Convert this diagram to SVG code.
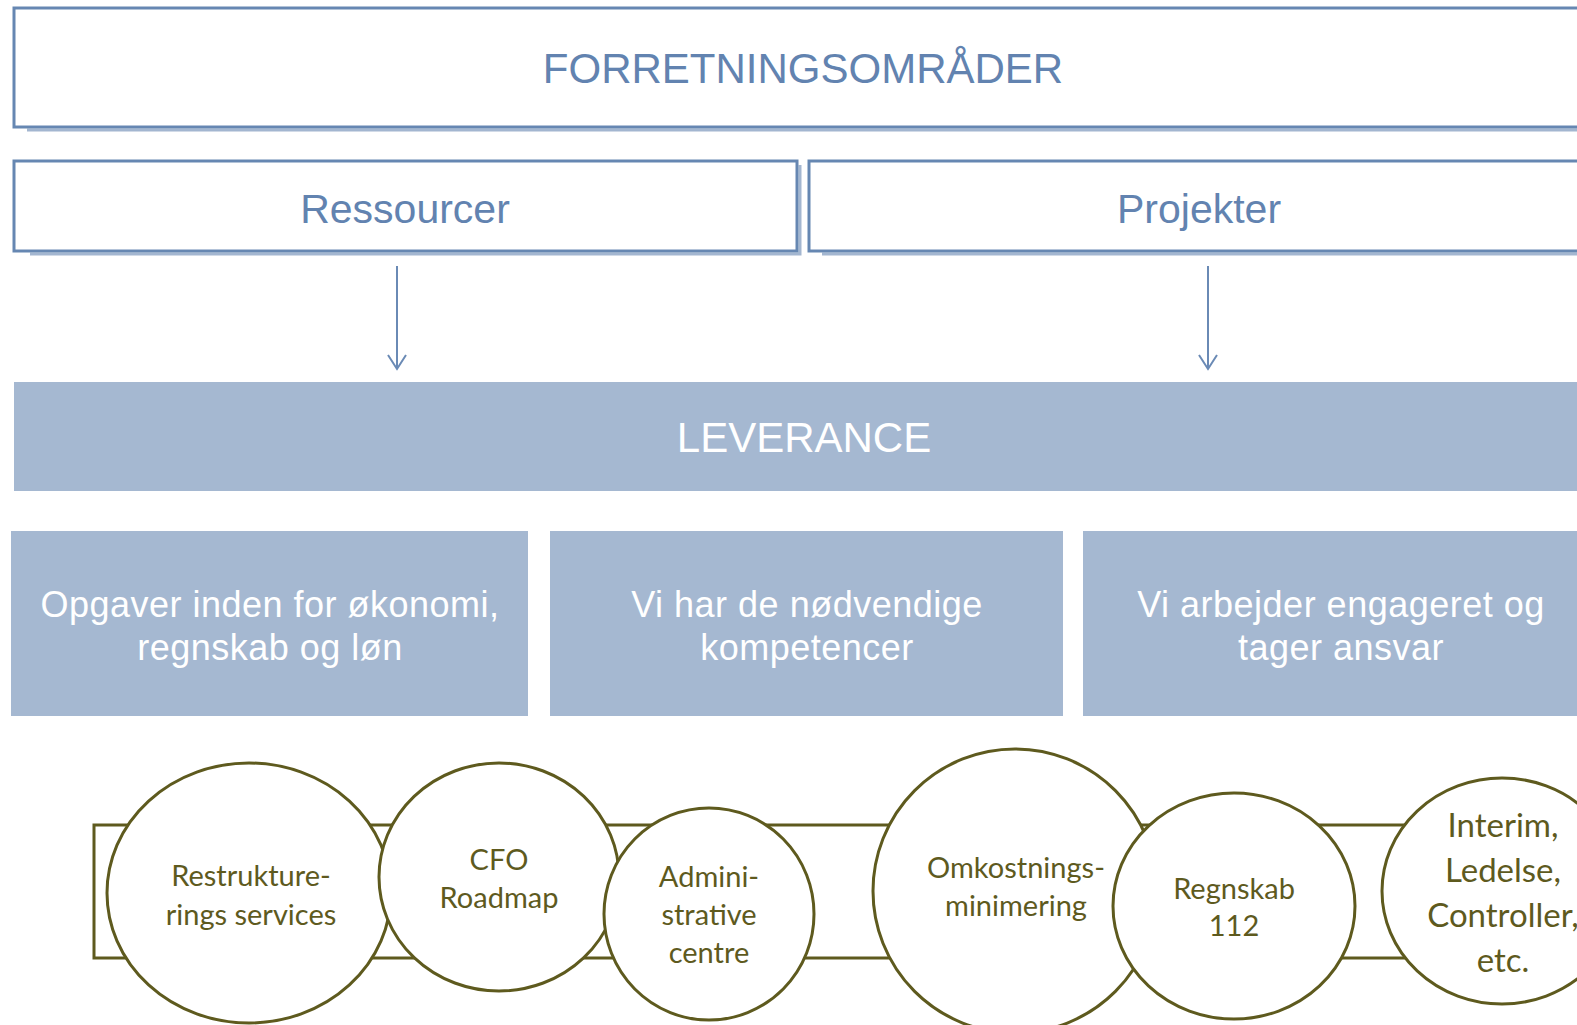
<svg xmlns="http://www.w3.org/2000/svg" width="1577" height="1025" viewBox="0 0 1577 1025">
<defs>
<style>
.frame{fill:#ffffff;stroke:#6687b2;stroke-width:3}
.shadow{fill:none;stroke:#a3b6d0;stroke-width:3}
.band{fill:#a5b8d1}
.hdr{font-family:"Liberation Sans",Arial,sans-serif;fill:#6283b0;text-anchor:middle}
.wt{font-family:"Liberation Sans",Arial,sans-serif;fill:#ffffff;text-anchor:middle;letter-spacing:0.5px}
.conn{stroke:#6a8ab5;stroke-width:2;fill:none}
.ol{fill:#ffffff;stroke:#5e5a1e;stroke-width:3}
.bar{fill:none;stroke:#5e5a1e;stroke-width:3}
.ct{font-family:Lato,"Open Sans",sans-serif;fill:#5e5a1e;text-anchor:middle}
</style>
<marker id="ah" markerWidth="18" markerHeight="22" refX="16" refY="11" orient="auto" markerUnits="userSpaceOnUse" viewBox="0 0 18 22">
<path d="M2,2 L16,11 L2,20" fill="none" stroke="#6a8ab5" stroke-width="2"/>
</marker>
</defs>
<rect width="1577" height="1025" fill="#ffffff"/>

<g id="forretningsomrader">
<line class="shadow" x1="27" y1="130" x2="1577" y2="130"/>
<rect class="frame" x="14" y="8" width="1600" height="119"/>
<text class="hdr" x="803" y="83" font-size="42">FORRETNINGSOMRÅDER</text>
</g>

<g id="ressourcer">
<polyline class="shadow" points="800,165 800,254 30,254"/>
<rect class="frame" x="14" y="161" width="783" height="90"/>
<text class="hdr" x="405" y="223" font-size="41">Ressourcer</text>
</g>

<g id="projekter">
<line class="shadow" x1="822" y1="254" x2="1577" y2="254"/>
<rect class="frame" x="809" y="161" width="800" height="90"/>
<text class="hdr" x="1199" y="223" font-size="41">Projekter</text>
</g>

<g id="connectors">
<line class="conn" x1="397" y1="266" x2="397" y2="369" marker-end="url(#ah)"/>
<line class="conn" x1="1208" y1="266" x2="1208" y2="369" marker-end="url(#ah)"/>
</g>

<g id="leverance">
<rect class="band" x="14" y="382" width="1600" height="109"/>
<text class="hdr" x="804" y="452" font-size="42" style="fill:#ffffff">LEVERANCE</text>
</g>

<g id="okonomi">
<rect class="band" x="11" y="531" width="517" height="185"/>
<text class="wt" x="270" y="617" font-size="36">Opgaver inden for økonomi,</text>
<text class="wt" x="270" y="660" font-size="36">regnskab og løn</text>
</g>

<g id="kompetencer">
<rect class="band" x="550" y="531" width="513" height="185"/>
<text class="wt" x="807" y="617" font-size="36">Vi har de nødvendige</text>
<text class="wt" x="807" y="660" font-size="36">kompetencer</text>
</g>

<g id="ansvar">
<rect class="band" x="1083" y="531" width="520" height="185"/>
<text class="wt" x="1341" y="617" font-size="36">Vi arbejder engageret og</text>
<text class="wt" x="1341" y="660" font-size="36">tager ansvar</text>
</g>

<g id="services-bar">
<rect class="bar" x="94" y="825" width="1600" height="133"/>
</g>

<g id="restrukturering">
<ellipse class="ol" cx="249" cy="893" rx="142" ry="130"/>
<text class="ct" x="251" y="886" font-size="29">Restrukture-</text>
<text class="ct" x="251" y="925" font-size="29">rings services</text>
</g>

<g id="cfo-roadmap">
<ellipse class="ol" cx="499" cy="877" rx="120" ry="114"/>
<text class="ct" x="499" y="870" font-size="29">CFO</text>
<text class="ct" x="499" y="908" font-size="29">Roadmap</text>
</g>

<g id="administrative-centre">
<ellipse class="ol" cx="709" cy="914" rx="105" ry="106"/>
<text class="ct" x="709" y="887" font-size="29">Admini-</text>
<text class="ct" x="709" y="925" font-size="29">strative</text>
<text class="ct" x="709" y="963" font-size="29">centre</text>
</g>

<g id="omkostningsminimering">
<ellipse class="ol" cx="1015" cy="891" rx="142" ry="142"/>
<text class="ct" x="1016" y="878" font-size="29">Omkostnings-</text>
<text class="ct" x="1016" y="916" font-size="29">minimering</text>
</g>

<g id="regnskab-112">
<ellipse class="ol" cx="1234" cy="906" rx="121" ry="113"/>
<text class="ct" x="1234" y="899" font-size="29">Regnskab</text>
<text class="ct" x="1234" y="936" font-size="29">112</text>
</g>

<g id="interim">
<ellipse class="ol" cx="1502" cy="891" rx="120" ry="113"/>
<text class="ct" x="1503" y="837" font-size="33">Interim,</text>
<text class="ct" x="1503" y="882" font-size="33">Ledelse,</text>
<text class="ct" x="1503" y="927" font-size="33">Controller,</text>
<text class="ct" x="1503" y="972" font-size="33">etc.</text>
</g>
</svg>
